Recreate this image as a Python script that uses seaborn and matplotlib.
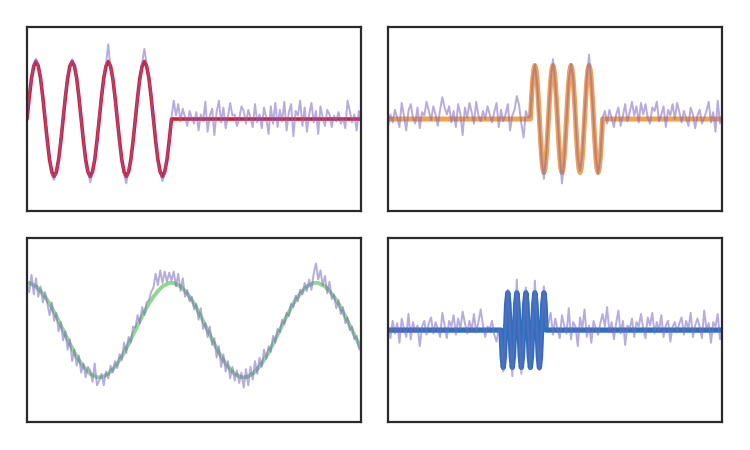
import numpy as np
import seaborn as sns
import matplotlib
matplotlib.use("Agg")
import matplotlib.pyplot as plt

# sample index shared by the noisy traces (149 samples per panel)
n_samples = 149

# panel 1: 4 sine cycles, then flat
clean1 = [0.0, 0.38, 0.71, 0.92, 1.0, 0.92, 0.71, 0.38, 0.0, -0.38, -0.71, -0.92, -1.0, -0.92, -0.71, -0.38,
          0.0, 0.38, 0.71, 0.92, 1.0, 0.92, 0.71, 0.38, 0.0, -0.38, -0.71, -0.92, -1.0, -0.92, -0.71, -0.38,
          0.0, 0.38, 0.71, 0.92, 1.0, 0.92, 0.71, 0.38, 0.0, -0.38, -0.71, -0.92, -1.0, -0.92, -0.71, -0.38,
          0.0, 0.38, 0.71, 0.92, 1.0, 0.92, 0.71, 0.38, 0.0, -0.38, -0.71, -0.92, -1.0, -0.92, -0.71, -0.38] + [0.0] * 85
noisy1 = [0.05, 0.45, 0.68, 0.98, 1.05, 0.90, 0.75, 0.30, 0.08, -0.42, -0.66, -0.98, -1.06, -0.88, -0.75, -0.33,
          0.04, 0.42, 0.76, 0.88, 1.04, 0.96, 0.66, 0.43, -0.05, -0.35, -0.78, -0.90, -1.10, -0.95, -0.68, -0.40,
          0.06, 0.35, 0.74, 0.96, 1.30, 0.88, 0.72, 0.34, 0.02, -0.44, -0.70, -0.96, -1.12, -0.86, -0.74, -0.36,
          0.03, 0.40, 0.66, 0.98, 1.22, 0.95, 0.68, 0.42, -0.06, -0.34, -0.76, -0.92, -1.08, -0.96, -0.66, -0.42,
          0.02,
          0.32, 0.06, 0.26, -0.04, 0.18, 0.04, -0.12, 0.14, 0.02, -0.08,
          0.12, -0.20, 0.08, -0.04, 0.30, -0.22, 0.06, 0.18, -0.28, 0.12,
          0.32, -0.06, 0.20, -0.16, 0.04, 0.28, 0.06, 0.08, -0.12, 0.00,
          0.22, 0.14, -0.08, 0.16, 0.02, -0.14, 0.26, -0.06, 0.08, -0.16,
          0.20, 0.02, -0.26, 0.22, -0.08, 0.28, -0.14, 0.16, -0.04, 0.30,
          -0.20, 0.12, 0.26, -0.30, 0.14, 0.06, 0.32, -0.12, 0.20, -0.22,
          0.08, 0.28, -0.06, 0.14, -0.26, 0.22, 0.02, -0.12, 0.16, 0.08,
          -0.14, 0.06, -0.04, 0.12, -0.08, 0.02, -0.16, 0.32, 0.14, -0.06,
          0.08, -0.20, 0.14, -0.08]

# panel 2: 4-cycle burst in the middle (half-sample resolution)
burst2_x = np.arange(63, 95.5, 0.5)
burst2_y = [0.0, 0.36, 0.66, 0.86, 0.93, 0.86, 0.66, 0.36, 0.0, -0.36, -0.66, -0.86, -0.93, -0.86, -0.66, -0.36,
            0.0, 0.36, 0.66, 0.86, 0.93, 0.86, 0.66, 0.36, 0.0, -0.36, -0.66, -0.86, -0.93, -0.86, -0.66, -0.36,
            0.0, 0.36, 0.66, 0.86, 0.93, 0.86, 0.66, 0.36, 0.0, -0.36, -0.66, -0.86, -0.93, -0.86, -0.66, -0.36,
            0.0, 0.36, 0.66, 0.86, 0.93, 0.86, 0.66, 0.36, 0.0, -0.36, -0.66, -0.86, -0.93, -0.86, -0.66, -0.36,
            0.0]
noisy2 = [-0.12, 0.08, -0.06, 0.16, 0.02, -0.14, 0.28, 0.06, -0.20, 0.14,
          0.26, 0.02, -0.08, 0.20, -0.16, 0.12, 0.06, 0.30, 0.14, -0.02,
          0.22, 0.08, -0.12, 0.16, 0.38, 0.20, 0.08, 0.22, -0.06, 0.14,
          -0.14, 0.26, 0.08, -0.28, 0.20, 0.02, 0.28, 0.12, -0.08, 0.30,
          0.06, -0.04, 0.14, 0.00, 0.22, 0.08, -0.06, 0.12, 0.28, -0.14,
          0.16, -0.04, 0.08, 0.26, -0.20, 0.06, 0.16, 0.40, 0.24, -0.08,
          -0.32, 0.14, 0.02,
          0.05, 0.70, 0.95, 0.60, -0.04, -0.70, -1.04, -0.62,
          0.03, 0.68, 1.04, 0.64, 0.05, -0.62, -1.12, -0.70,
          -0.02, 0.66, 0.96, 0.70, 0.02, -0.68, -0.90, -0.62,
          0.04, 0.72, 1.12, 0.62, -0.03, -0.66, -0.95, -0.68,
          0.02,
          0.14, -0.08, 0.16, 0.02, -0.14, 0.08, 0.20, -0.12, 0.06, 0.26,
          -0.04, 0.12, 0.30, 0.06, 0.22, -0.06, 0.28, 0.08, 0.26, 0.02,
          -0.08, 0.20, 0.14, 0.30, -0.04, 0.08, 0.22, -0.14, 0.16, 0.06,
          0.26, 0.00, 0.28, 0.12, -0.06, 0.14, 0.02, -0.12, 0.20, 0.08,
          -0.16, 0.06, 0.16, -0.08, 0.02, 0.14, 0.30, -0.06, 0.12, -0.22,
          0.32, -0.08, 0.08]

# panel 3: slow cosine over the full window
clean3 = [0.82, 0.82, 0.80, 0.78, 0.76, 0.72, 0.68, 0.63, 0.58, 0.52, 0.46, 0.39, 0.31, 0.24, 0.16, 0.08,
          0.00, -0.08, -0.16, -0.24, -0.31, -0.39, -0.46, -0.52, -0.58, -0.63, -0.68, -0.72, -0.76, -0.78, -0.80, -0.82,
          -0.82, -0.82, -0.80, -0.78, -0.76, -0.72, -0.68, -0.63, -0.58, -0.52, -0.46, -0.39, -0.31, -0.24, -0.16, -0.08,
          0.00, 0.08, 0.16, 0.24, 0.31, 0.39, 0.46, 0.52, 0.58, 0.63, 0.68, 0.72, 0.76, 0.78, 0.80, 0.82,
          0.82, 0.82, 0.80, 0.78, 0.76, 0.72, 0.68, 0.63, 0.58, 0.52, 0.46, 0.39, 0.31, 0.24, 0.16, 0.08,
          0.00, -0.08, -0.16, -0.24, -0.31, -0.39, -0.46, -0.52, -0.58, -0.63, -0.68, -0.72, -0.76, -0.78, -0.80, -0.82,
          -0.82, -0.82, -0.80, -0.78, -0.76, -0.72, -0.68, -0.63, -0.58, -0.52, -0.46, -0.39, -0.31, -0.24, -0.16, -0.08,
          0.00, 0.08, 0.16, 0.24, 0.31, 0.39, 0.46, 0.52, 0.58, 0.63, 0.68, 0.72, 0.76, 0.78, 0.80, 0.82,
          0.82, 0.82, 0.80, 0.78, 0.76, 0.72, 0.68, 0.63, 0.58, 0.52, 0.46, 0.39, 0.31, 0.24, 0.16, 0.08,
          0.00, -0.08, -0.16, -0.24, -0.31]
noisy3 = [0.80, 0.66, 0.96, 0.62, 0.90, 0.58, 0.76, 0.48, 0.66, 0.46, 0.26, 0.48, 0.16, 0.30, -0.02, 0.14,
          -0.18, -0.02, -0.34, -0.16, -0.54, -0.34, -0.62, -0.44, -0.74, -0.58, -0.82, -0.64, -0.70, -0.90, -0.58, -0.96,
          -0.88, -0.76, -0.96, -0.72, -0.84, -0.62, -0.74, -0.54, -0.66, -0.42, -0.52, -0.22, -0.40, -0.12, -0.22, 0.06,
          0.04, 0.26, 0.12, 0.40, 0.26, 0.48, 0.52, 0.66, 0.74, 0.98, 0.78, 1.04, 0.82, 1.02, 0.84, 1.00,
          0.86, 1.02, 0.76, 0.98, 0.68, 0.90, 0.58, 0.70, 0.50, 0.58, 0.36, 0.46, 0.18, 0.38, 0.02, 0.12,
          -0.12, 0.06, -0.26, -0.14, -0.48, -0.28, -0.64, -0.42, -0.72, -0.54, -0.84, -0.64, -0.88, -0.70, -0.92, -0.74,
          -1.00, -0.68, -0.96, -0.64, -0.86, -0.54, -0.76, -0.48, -0.64, -0.34, -0.50, -0.28, -0.38, -0.10, -0.22, 0.02,
          -0.04, 0.18, 0.10, 0.30, 0.24, 0.46, 0.40, 0.60, 0.50, 0.70, 0.62, 0.82, 0.68, 0.88, 0.70, 0.98,
          1.16, 0.88, 1.04, 0.78, 0.94, 0.64, 0.84, 0.54, 0.62, 0.38, 0.52, 0.28, 0.40, 0.12, 0.22, 0.00,
          0.06, -0.16, -0.10, -0.32, -0.36]

# panel 4: fast 5-cycle burst, starting downwards
burst4_x = np.arange(50, 70.5, 0.5)
burst4_y = [0.0, -0.46, -0.65, -0.46, 0.0, 0.46, 0.65, 0.46,
            0.0, -0.46, -0.65, -0.46, 0.0, 0.46, 0.65, 0.46,
            0.0, -0.46, -0.65, -0.46, 0.0, 0.46, 0.65, 0.46,
            0.0, -0.46, -0.65, -0.46, 0.0, 0.46, 0.65, 0.46,
            0.0, -0.46, -0.65, -0.46, 0.0, 0.46, 0.65, 0.46,
            0.0]
noisy4 = [0.06, -0.14, 0.16, -0.06, 0.12, -0.22, 0.20, 0.02, -0.12, 0.28,
          -0.16, 0.14, -0.02, 0.08, -0.28, 0.06, 0.16, -0.08, 0.12, 0.22,
          -0.06, 0.14, 0.02, -0.12, 0.30, 0.08, -0.14, 0.16, 0.06, 0.26,
          -0.08, 0.20, 0.02, 0.32, 0.12, -0.06, 0.16, 0.00, 0.28, -0.04,
          0.14, 0.36, 0.08, -0.12, 0.06, 0.02, 0.16, -0.08, -0.20, 0.02,
          -0.06, -0.72, 0.04, 0.70, -0.02, -0.80, 0.06, 0.88, 0.02, -0.76,
          -0.04, 0.74, 0.03, -0.68, 0.02, 0.86, -0.05, -0.70, 0.04, 0.76, 0.05,
          0.12, 0.30, -0.08, 0.20, 0.02, -0.14, 0.26, 0.08, -0.06, 0.38,
          -0.16, 0.14, 0.06, -0.28, 0.22, 0.02, 0.36, -0.12, 0.08, -0.22,
          0.16, 0.02, -0.08, 0.12, 0.28, 0.06, 0.40, -0.04, 0.14, -0.16,
          0.12, 0.34, -0.06, 0.16, -0.26, 0.08, 0.02, 0.20, -0.12, 0.14,
          0.06, 0.28, 0.02, -0.14, 0.22, 0.08, 0.30, -0.06, 0.14, 0.00,
          0.26, -0.12, 0.08, 0.16, -0.20, 0.06, 0.14, -0.04, 0.12, 0.22,
          -0.08, 0.16, 0.02, 0.30, -0.12, 0.08, 0.20, 0.06, -0.14, 0.34,
          0.02, 0.12, -0.22, 0.14, 0.06, 0.28, -0.16, 0.08]

noise_color = "#7b68c4"

sns.set_style("white", {"axes.edgecolor": "#2a2a2a"})
plt.rcParams["axes.linewidth"] = 1.6

fig, axes = plt.subplots(2, 2, figsize=(7.5, 4.5), dpi=100)
plt.subplots_adjust(left=0.036, right=0.963, bottom=0.062, top=0.94, wspace=0.081, hspace=0.147)

idx = np.arange(n_samples)
last = n_samples - 1

ax = axes[0, 0]
sns.lineplot(x=idx, y=clean1, ax=ax, color="#d81c2c", lw=2.6)
sns.lineplot(x=np.arange(len(noisy1)), y=noisy1, ax=ax, color=noise_color, lw=1.4, alpha=0.55)

ax = axes[0, 1]
sns.lineplot(x=np.concatenate([[0], burst2_x, [last]]), y=[0.0] + burst2_y + [0.0],
             ax=ax, color="#f5a04a", lw=3.6, sort=False)
sns.lineplot(x=np.arange(len(noisy2)), y=noisy2, ax=ax, color=noise_color, lw=1.4, alpha=0.55)

ax = axes[1, 0]
sns.lineplot(x=idx, y=clean3, ax=ax, color="#90d890", lw=2.8)
sns.lineplot(x=np.arange(len(noisy3)), y=noisy3, ax=ax, color=noise_color, lw=1.4, alpha=0.55)

ax = axes[1, 1]
sns.lineplot(x=np.concatenate([[0], burst4_x, [last]]), y=[0.0] + burst4_y + [0.0],
             ax=ax, color="#2a72bc", lw=3.8, sort=False)
sns.lineplot(x=np.arange(len(noisy4)), y=noisy4, ax=ax, color=noise_color, lw=1.4, alpha=0.55)

for ax in axes.flat:
    ax.set_xlim(0, last)
    ax.set_ylim(-1.6, 1.6)
    ax.set_xticks([])
    ax.set_yticks([])
    ax.set_xlabel("")
    ax.set_ylabel("")

fig.savefig("out.png", dpi=100)
